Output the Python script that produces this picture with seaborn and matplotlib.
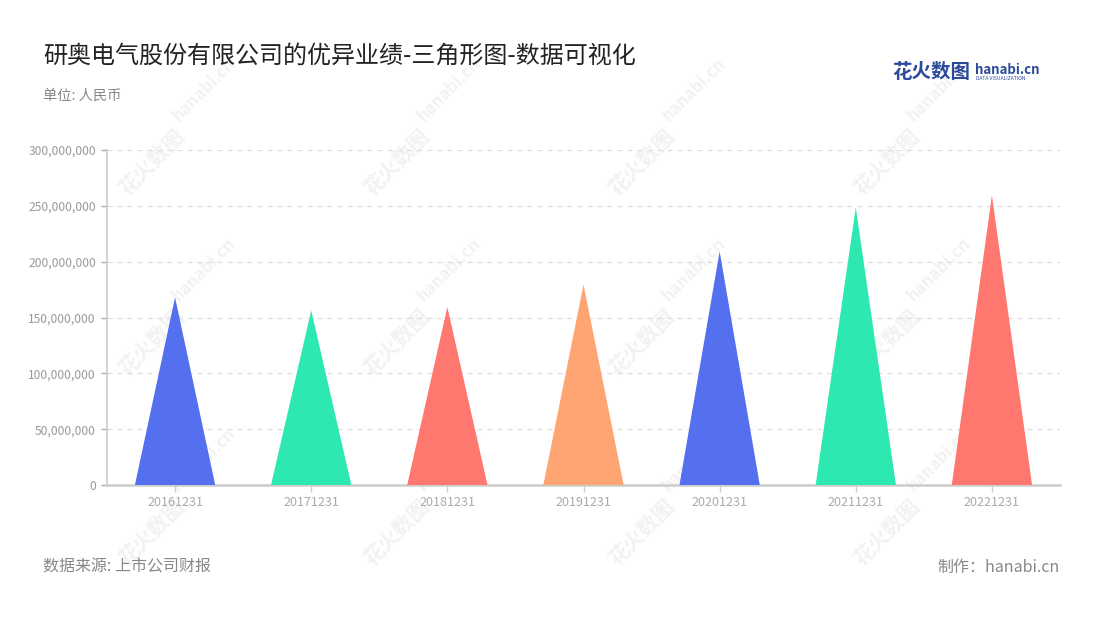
import matplotlib
matplotlib.use("Agg")
import matplotlib.pyplot as plt
import seaborn as sns
import pandas as pd
from matplotlib.patches import Polygon
from matplotlib.ticker import FuncFormatter, MultipleLocator

# ---- data ----
dates = ["20161231", "20171231", "20181231", "20191231", "20201231", "20211231", "20221231"]
values = [168_000_000, 156_300_000, 159_300_000, 179_500_000, 209_200_000, 248_500_000, 259_300_000]
colors = ["#5470EE", "#2DE8B0", "#FF7870", "#FFA574", "#5470EE", "#2DE8B0", "#FF7870"]
title = "研奥电气股份有限公司的优异业绩-三角形图-数据可视化"
unit_text = "单位: 人民币"
source_text = "数据来源: 上市公司财报"
credit_text = "制作：hanabi.cn"

sns.set_theme(style="white")
plt.rcParams['font.family'] = ['Noto Sans CJK SC', 'DejaVu Sans']

df = pd.DataFrame({"date": dates, "value": values})

fig = plt.figure(figsize=(11, 6.2), dpi=100)
ax = fig.add_axes([107/1100, 1 - 485/620, (1060 - 107)/1100, (485 - 150)/620])
ax.set_zorder(2)
ax.set_facecolor("none")

# watermarks (faint, behind the plot)
for cx in [152, 397, 642, 887]:
    for cy in [162, 342, 532]:
        fig.text(cx/1100, 1 - cy/620, "花火数图", rotation=45, fontsize=15, color="#f2f2f2",
                 ha="center", va="center", fontweight="bold", zorder=-5)
        fig.text((cx + 52)/1100, 1 - (cy - 72)/620, "hanabi.cn", rotation=45, fontsize=12,
                 color="#f2f2f2", ha="center", va="center", fontweight="bold", zorder=-5)

sns.barplot(data=df, x="date", y="value", hue="date", palette=colors, width=0.59,
            legend=False, ax=ax, saturation=1)

# convert bars to triangles
for p in list(ax.patches):
    x0, w, h = p.get_x(), p.get_width(), p.get_height()
    tri = Polygon([(x0, 0), (x0 + w / 2, h), (x0 + w, 0)], closed=True,
                  facecolor=p.get_facecolor(), edgecolor="none", zorder=3)
    ax.add_patch(tri)
    p.remove()

ax.set_ylim(0, 300_000_000)
ax.set_xlim(-0.5, len(dates) - 0.5)
ax.yaxis.set_major_locator(MultipleLocator(50_000_000))
ax.yaxis.set_major_formatter(FuncFormatter(lambda v, _: f"{v:,.0f}"))
ax.set_xlabel("")
ax.set_ylabel("")

ax.grid(axis="y", color="#dddddd", linestyle=(0, (4, 4)), linewidth=0.9, zorder=0)
ax.grid(axis="x", visible=False)
for s in ["top", "right"]:
    ax.spines[s].set_visible(False)
ax.spines["left"].set_color("#cccccc")
ax.spines["left"].set_linewidth(1.2)
ax.spines["bottom"].set_color("#cccccc")
ax.spines["bottom"].set_linewidth(1.8)
ax.tick_params(axis="y", colors="#aaaaaa", labelcolor="#999999", labelsize=8.7, length=4, width=1, pad=4, left=True)
ax.tick_params(axis="x", colors="#cccccc", labelcolor="#aaaaaa", labelsize=9, length=5, width=1, pad=3, bottom=True)

fig.text(43/1100, 1 - 56/620, title, fontsize=17.3, color="#222222", ha="left", va="center")
fig.text(43/1100, 1 - 96/620, unit_text, fontsize=10.3, color="#888888", ha="left", va="center")
fig.text(43/1100, 1 - 567/620, source_text, fontsize=11.5, color="#888888", ha="left", va="center")
fig.text(1060/1100, 1 - 567/620, credit_text, fontsize=11.5, color="#888888", ha="right", va="center")

# logo
fig.text(892/1100, 1 - 73/620, "花火数图", fontsize=14, color="#2B4A9B", fontweight="bold", ha="left", va="center")
fig.text(975/1100, 1 - 70/620, "hanabi.cn", fontsize=9.5, color="#2B4A9B", fontweight="bold", ha="left", va="center")
fig.text(976/1100, 1 - 79/620, "DATA VISUALIZATION", fontsize=3.6, color="#2B4A9B", ha="left", va="center")

fig.savefig("out.png", dpi=100)
